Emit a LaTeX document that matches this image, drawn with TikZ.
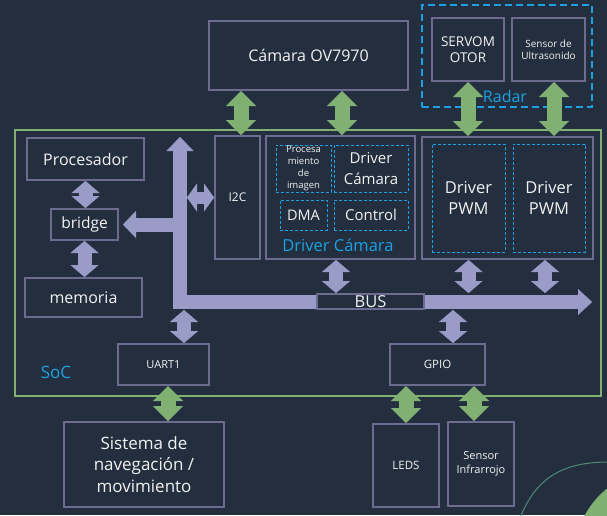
\documentclass[tikz,border=0pt]{standalone}
\usepackage{fontspec}
\setmainfont{Open Sans}
\usetikzlibrary{arrows.meta}
\definecolor{fondo}{HTML}{232F3F}
\definecolor{borde}{HTML}{6E6B91}
\definecolor{lila}{HTML}{9B9BC8}
\definecolor{verde}{HTML}{80B072}
\definecolor{cian}{HTML}{1DA1E2}
\definecolor{texto}{HTML}{F2F2F2}
\newcommand\tam[2]{\fontsize{#1}{#2}\selectfont}

\begin{document}
\begin{tikzpicture}[x=1pt,y=-1pt,
    caja/.style={draw=borde, line width=2pt, fill=fondo, text=texto, align=center, inner sep=0pt},
    punteada/.style={draw=cian, line width=0.9pt, dash pattern=on 3pt off 2pt, text=texto, align=center, inner sep=0pt},
    etiqueta/.style={text=cian, inner sep=0pt},
    busl/.style={draw=lila, line width=14pt, line join=miter,
        arrows={Triangle[length=14pt,width=27pt,line width=0.1pt]-Triangle[length=14pt,width=26pt,line width=0.1pt]}},
    lflecha/.style={draw=lila, line width=14pt, arrows={-Triangle[length=13pt,width=27pt,line width=0.1pt]}},
    ldbl/.style={draw=lila, line width=14pt,
        arrows={Triangle[length=12pt,width=28pt,line width=0.1pt]-Triangle[length=12pt,width=28pt,line width=0.1pt]}},
    lcorta/.style={draw=lila, line width=12pt,
        arrows={Triangle[length=10pt,width=28pt,line width=0.1pt]-Triangle[length=10pt,width=28pt,line width=0.1pt]}},
    gdbl/.style={draw=verde, line width=15pt,
        arrows={Triangle[length=15pt,width=30pt,line width=0.1pt]-Triangle[length=15pt,width=30pt,line width=0.1pt]}}]
    % fondo y adorno
    \fill[fondo] (0,0) rectangle (607,515);
    \useasboundingbox (0,0) rectangle (607,515);
    \begin{scope}
        \clip (0,0) rectangle (607,515);
        \fill[verde] (660,555) circle (85);
        \draw[draw=verde!70!cian!80!black, line width=1pt] (520,518) .. controls (538,472) and (570,462) .. (610,462);
    \end{scope}
    % bloques externos
    \node[caja, minimum width=199pt, minimum height=69pt, font=\tam{16}{20}] (cam) at (308.5,55.5) {Cámara OV7970};
    \node[draw=cian, line width=2pt, dash pattern=on 7pt off 4pt, minimum width=170pt, minimum height=102pt] (radar) at (507,56) {};
    \node[caja, minimum width=72pt, minimum height=63pt, font=\tam{13.5}{16}] (servo) at (468,49.5) {SERVOM\\OTOR};
    \node[caja, minimum width=73pt, minimum height=63pt, font=\tam{10}{12}] (us) at (548.5,49.5) {Sensor de\\Ultrasonido};
    \node[etiqueta, font=\tam{16}{18}] at (505,96) {Radar};
    % SoC
    \node[draw=verde, line width=2pt, minimum width=586pt, minimum height=266pt] (soc) at (308,263) {};
    \node[etiqueta, font=\tam{17}{19}] at (56,372) {SoC};
    \node[caja, minimum width=117pt, minimum height=42pt, font=\tam{16}{20}] (proc) at (85.5,159) {Procesador};
    \node[caja, minimum width=67pt, minimum height=31pt, font=\tam{15.5}{19}] (bridge) at (84.5,224.5) {bridge};
    \node[caja, minimum width=117pt, minimum height=39pt, font=\tam{16}{20}] (mem) at (83.5,297.5) {memoria};
    \node[caja, minimum width=45pt, minimum height=123pt, font=\tam{12}{14}] (i2c) at (237.5,197.5) {I2C};
    \node[caja, minimum width=149pt, minimum height=123pt] (drv) at (340.5,197.5) {};
    \node[punteada, minimum width=55pt, minimum height=47pt, font=\tam{9.5}{12}] (pimg) at (303.5,168.5) {Procesa\\miento\\de\\imagen};
    \node[punteada, minimum width=74pt, minimum height=47pt, font=\tam{15}{21}] (dcam) at (371,168.5) {Driver\\Cámara};
    \node[punteada, minimum width=47pt, minimum height=30pt, font=\tam{14.5}{17}] (dma) at (303.5,215) {DMA};
    \node[punteada, minimum width=74pt, minimum height=30pt, font=\tam{15}{17}] (ctrl) at (371,215) {Control};
    \node[etiqueta, font=\tam{16.5}{19}] at (338,245) {Driver Cámara};
    \node[caja, minimum width=171pt, minimum height=122pt] (pwm) at (507.5,198) {};
    \node[punteada, minimum width=73pt, minimum height=108pt, font=\tam{16.5}{21}] (pwma) at (468.5,198) {Driver\\PWM};
    \node[punteada, minimum width=72pt, minimum height=108pt, font=\tam{16.5}{21}] (pwmb) at (549,198) {Driver\\PWM};
    \node[caja, minimum width=91pt, minimum height=41pt, font=\tam{11}{13}] (uart) at (163.5,364.5) {UART1};
    \node[caja, minimum width=95pt, minimum height=41pt, font=\tam{11.5}{13}] (gpio) at (437.5,364.5) {GPIO};
    % bus
    \coordinate (bustop) at (180,137);
    \coordinate (busesq) at (180,302);
    \coordinate (busfin) at (592,302);
    \draw[lflecha] (bridge.east -| bustop) -- ([xshift=4pt]bridge.east);
    \draw[busl] (bustop) -- (busesq) -- (busfin);
    \node[caja, minimum width=107pt, minimum height=15pt, font=\tam{16.5}{18}] (bus) at (370.5,301.5) {BUS};
    % bloques de abajo
    \node[caja, minimum width=160pt, minimum height=85pt, font=\tam{17}{21.7}] (sis) at (144,464.5) {Sistema de\\navegación /\\movimiento};
    \node[caja, minimum width=66pt, minimum height=83pt, font=\tam{11.5}{14}] (leds) at (406,465.5) {LEDS};
    \node[caja, minimum width=66pt, minimum height=84pt, font=\tam{11}{14}] (inf) at (481,464) {Sensor\\Infrarrojo};
    % flechas lila
    \draw[ldbl] (proc.south) -- (proc.south |- bridge.north);
    \draw[ldbl] (bridge.south) -- (bridge.south |- mem.north);
    \draw[lcorta] ([xshift=7pt]i2c.west -| bustop) -- (i2c.west);
    \draw[ldbl] ([xshift=-4.5pt]drv.south) -- ([xshift=-4.5pt]drv.south |- bus.north);
    \draw[ldbl] (pwma |- pwm.south) -- (pwma |- bus.north);
    \draw[ldbl] ([xshift=-4pt]pwmb |- pwm.south) -- ([xshift=-4pt]pwmb |- bus.north);
    \draw[ldbl] ([xshift=15.5pt]gpio.north |- bus.south) -- ([xshift=15.5pt]gpio.north);
    \draw[ldbl] ([xshift=20.5pt]uart.north |- bus.south) -- ([xshift=20.5pt]uart.north);
    % flechas verdes
    \draw[gdbl] ([xshift=3.5pt]cam.south -| i2c) -- ([xshift=3.5pt]i2c.north);
    \draw[gdbl] ([xshift=1.5pt]cam.south -| drv) -- ([xshift=1.5pt]drv.north);
    \draw[gdbl] (servo.south) -- (servo.south |- pwm.north);
    \draw[gdbl] ([xshift=5.5pt]us.south) -- ([xshift=5.5pt]us.south |- pwm.north);
    \draw[gdbl] ([xshift=4.5pt]uart.south) -- ([xshift=4.5pt]uart.south |- sis.north);
    \draw[gdbl] (leds.north |- gpio.south) -- (leds.north);
    \draw[gdbl] ([xshift=-7pt]inf.north |- gpio.south) -- ([xshift=-7pt]inf.north);
\end{tikzpicture}
\end{document}
